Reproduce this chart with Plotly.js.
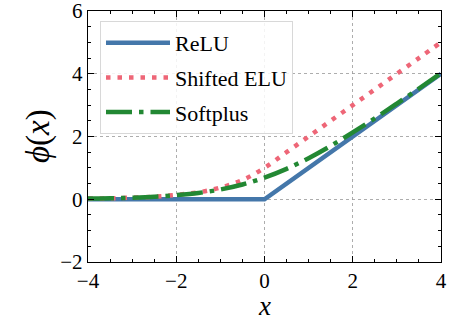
<!DOCTYPE html>
<html><head><meta charset="utf-8">
<script src="https://cdn.plot.ly/plotly-3.0.1.min.js"></script>
<style>body{margin:0;background:#fff}#c{width:457px;height:322px}</style>
</head><body><div id="c"></div>
<script>
const reluX = [-4, 0, 4];
const reluY = [0, 0, 4];
const xs = [-4,-3.5,-3,-2.5,-2,-1.5,-1,-0.5,0,0.5,1,1.5,2,2.5,3,3.5,4];
const eluY = [0.02,0.03,0.05,0.08,0.14,0.22,0.37,0.61,1.0,1.5,2,2.5,3,3.5,4,4.5,5];
const softplusY = [0.02,0.03,0.05,0.08,0.13,0.20,0.31,0.47,0.69,0.97,1.31,1.70,2.13,2.58,3.05,3.53,4.02];
const names = ['ReLU','Shifted ELU','Softplus'];
const xTicks = [-4,-2,0,2,4];
const yTicks = [-2,0,2,4,6];

const F = '"Liberation Serif", "Times New Roman", "DejaVu Serif", serif';
const traces = [
  {x: reluX, y: reluY, name: names[0], legendgroup:'a', mode:'lines', line:{color:'#4477AA', width:4.5}},
  {x: xs, y: eluY, name: names[1], legendgroup:'b', mode:'lines', line:{color:'#EE6677', width:4.5, dash:'4.5px,7px', shape:'spline'}},
  {x: xs, y: softplusY, name: names[2], legendgroup:'c', mode:'lines', line:{color:'#228833', width:4.5, dash:'26px,7px,4.5px,7px', shape:'spline'}}
];
const ax = {
  showline:true, linecolor:'#000', linewidth:1.2, mirror:'ticks',
  ticks:'inside', ticklen:6, tickwidth:1.2, tickcolor:'#000',
  showgrid:true, gridcolor:'#999', griddash:'dot', gridwidth:0.8,
  zeroline:false, tickfont:{family:F, size:21, color:'#000'}, ticklabeloverflow:'allow',
  minor:{ticks:'inside', ticklen:3, tickwidth:1, tickcolor:'#000', dtick:0.5, showgrid:false}
};
const layout = {
  width:457, height:322,
  margin:{l:88, r:16, t:11, b:60},
  paper_bgcolor:'#fff', plot_bgcolor:'#fff',
  showlegend:true,
  xaxis: Object.assign({}, ax, {range:[-4,4], tickvals:xTicks, ticktext:xTicks.map(v=>v<0?'\u2212'+(-v):String(v))}),
  yaxis: Object.assign({}, ax, {range:[-2,6], tickvals:yTicks, ticktext:yTicks.map(v=>v<0?'\u2212'+(-v):String(v))}),
  annotations:[
    {text:'<i>x</i>', xref:'paper', yref:'paper', x:0.5, y:-0.239, xanchor:'center', yanchor:'bottom', showarrow:false,
     font:{family:F, size:27, color:'#000'}, borderpad:0},
    {text:'<i>ϕ</i>(<i>x</i>)', xref:'paper', yref:'paper', x:-0.14, y:0.5, xanchor:'center', yanchor:'middle', textangle:-90, showarrow:false,
     font:{family:F, size:33, color:'#000'}}
  ],
  legend:{x:0.034, y:0.96, xanchor:'left', yanchor:'top', bgcolor:'rgba(255,255,255,0.85)',
    bordercolor:'#d8d8d8', borderwidth:1, font:{family:F, size:22, color:'#000'},
    tracegroupgap:3, itemwidth:64}
};
Plotly.newPlot('c', traces, layout, {staticPlot:true});
</script></body></html>
